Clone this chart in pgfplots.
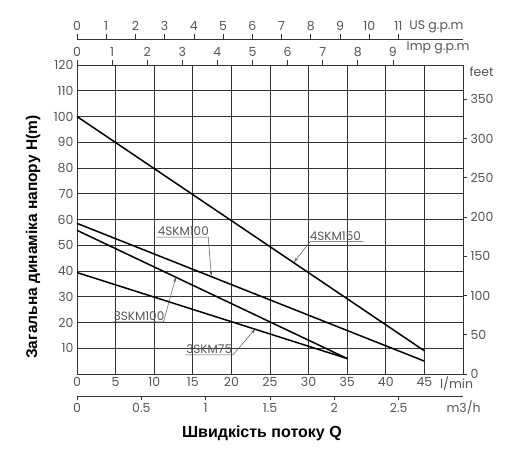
\documentclass[border=0pt]{standalone}
\usepackage{fontspec}
\setmainfont{Poppins}
\newfontfamily\labfont{Liberation Sans}
\usepackage{pgfplots}
\pgfplotsset{compat=1.18}
\usetikzlibrary{arrows.meta}
\definecolor{txt}{HTML}{555555}
\definecolor{grd}{HTML}{333333}

\pgfplotsset{
  chart/.style={
    scale only axis, width=386pt,
    /pgf/number format/assume math mode=true,
    tick label style={font=\fontsize{12.5}{14}\selectfont, text=txt},
    axis line style={line width=0.8pt, draw=grd, -},
    tick style={line width=0.7pt, draw=grd},
  },
  extraaxis/.style={
    chart, axis y line=none, tick align=outside, major tick length=5pt,
    xmin=0, ymin=0, ymax=1,
  },
}

\begin{document}
\begin{tikzpicture}
\path[use as bounding box] (-77pt,-93pt) rectangle (435pt,374pt);

% main axis: l/min against H(m)
\begin{axis}[chart,
  height=309pt,
  xmin=0, xmax=50, ymin=0, ymax=120,
  xtick={0,5,...,45}, ytick={10,20,...,120},
  grid=major, grid style={line width=0.6pt, draw=grd},
  major tick length=0pt,
  clip=false,
]
\addplot[black, line width=1.5pt] coordinates {(0,100) (45,9)};
\addplot[black, line width=1.5pt] coordinates {(0,58.5) (45,5)};
\addplot[black, line width=1.5pt] coordinates {(0,55.8) (35,6)};
\addplot[black, line width=1.5pt] coordinates {(0,39.4) (35,6)};

\begin{scope}[txt, line width=0.5pt, font=\fontsize{12}{13}\selectfont]
\draw[-{Stealth[length=5pt,width=2.5pt]}] (axis cs:10.3,53.2) -- (axis cs:17.0,53.2) -- (axis cs:17.4,38.0);
\node[anchor=south west, inner sep=1pt] at (axis cs:10.3,53.2) {4SKM100};
\draw[-{Stealth[length=5pt,width=2.5pt]}] (axis cs:4.6,20.2) -- (axis cs:11.2,20.2) -- (axis cs:12.8,37.6);
\node[anchor=south west, inner sep=1pt] at (axis cs:4.6,20.2) {3SKM100};
\draw[-{Stealth[length=5pt,width=2.5pt]}] (axis cs:14.0,7.4) -- (axis cs:20.2,7.4) -- (axis cs:23.1,17.5);
\node[anchor=south west, inner sep=1pt] at (axis cs:14.0,7.4) {3SKM75};
\draw[-{Stealth[length=5pt,width=2.5pt]}] (axis cs:37.1,51.4) -- (axis cs:30.2,51.4) -- (axis cs:28.1,43.4);
\node[anchor=south west, inner sep=1pt] at (axis cs:30.0,51.4) {4SKM150};
\end{scope}

\begin{scope}[txt, font=\fontsize{12.5}{14}\selectfont]
\node[anchor=west, inner sep=0pt] at ([yshift=-10pt]axis cs:47.0,0) {l/min};
\node[anchor=west] at ([xshift=-20pt, yshift=-34pt]rel axis cs:1,0) {m3/h};
\node[anchor=west] at ([xshift=3pt, yshift=-7pt]rel axis cs:1,1) {feet};
\node[anchor=east] at ([xshift=10pt, yshift=17pt]rel axis cs:1,1) {Imp g.p.m};
\node[anchor=east] at ([xshift=4pt, yshift=38pt]rel axis cs:1,1) {US g.p.m};
\end{scope}

\node[font=\labfont\bfseries\fontsize{16}{18}\selectfont] at ([yshift=-59pt]rel axis cs:0.479,0) {Швидкість потоку Q};
\node[font=\labfont\bfseries\fontsize{15.5}{18}\selectfont, rotate=90] at ([xshift=-44pt]rel axis cs:0,0.443) {Загальна динаміка напору H(m)};
\end{axis}

% right axis in feet
\begin{axis}[chart,
  height=309pt,
  xmin=0, xmax=50, ymin=0, ymax=393.7,
  axis x line=none, axis y line*=right,
  ytick={0,50,...,350}, tick align=outside, major tick length=4pt,
]
\end{axis}

% top axis: Imp g.p.m on the frame
\begin{axis}[extraaxis,
  height=309pt, xmax=10.9985,
  axis x line*=top, xtick={0,1,...,9},
]
\end{axis}

% top axis: US g.p.m above
\begin{axis}[extraaxis,
  height=335pt, xmax=13.2086,
  axis x line*=top, xtick={0,1,...,11},
]
\end{axis}

% bottom axis: m3/h
\begin{axis}[extraaxis,
  at={(0,-22pt)}, height=10pt, xmax=3,
  axis x line*=bottom, xtick={0,0.5,...,2.5}, major tick length=4pt,
]
\end{axis}
\end{tikzpicture}
\end{document}
